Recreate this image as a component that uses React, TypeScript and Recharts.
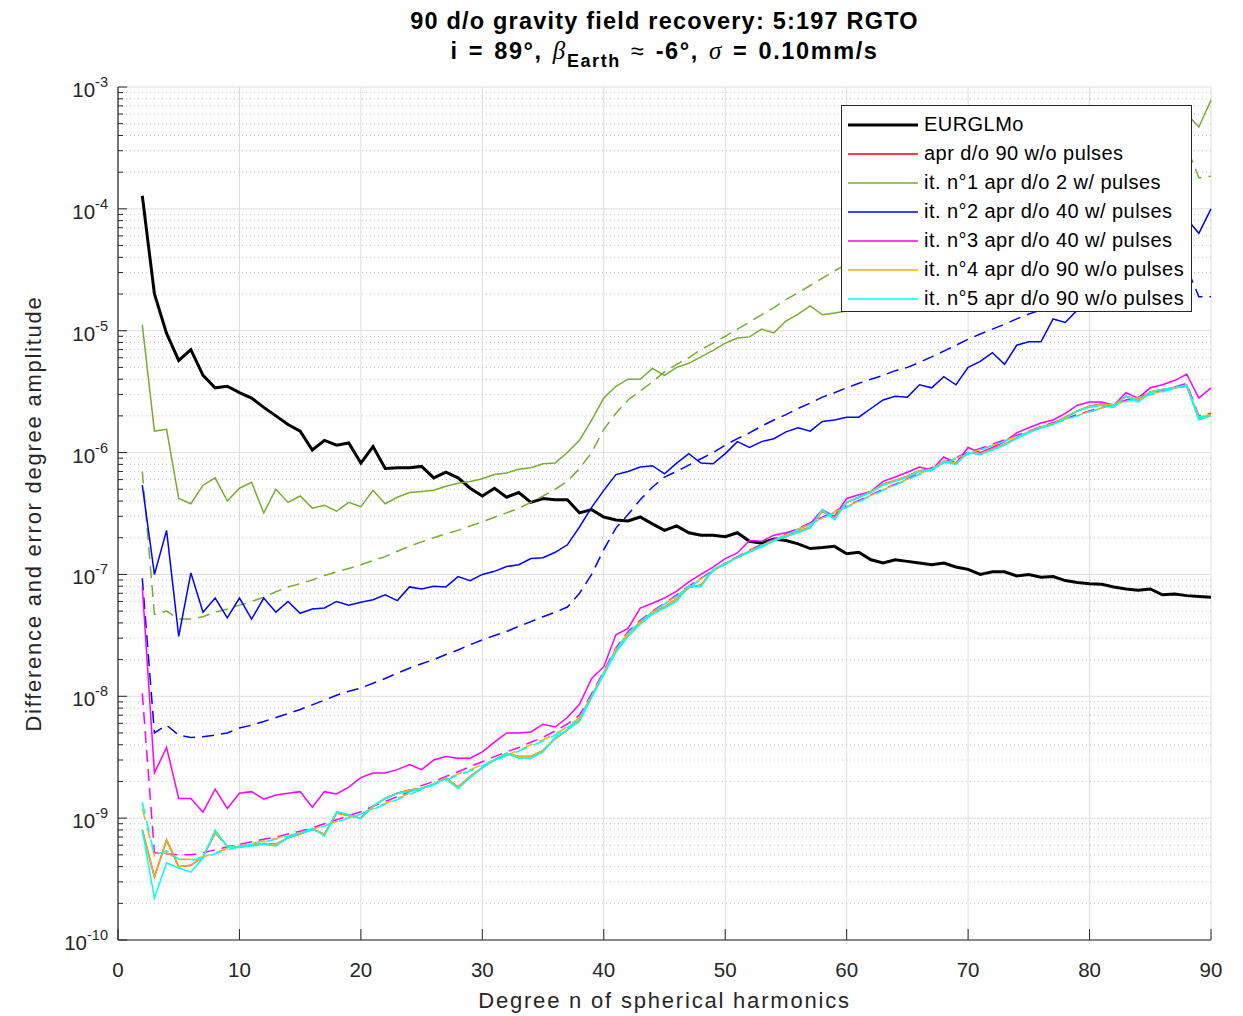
import React from "react";
import {
  LineChart,
  Line,
  XAxis,
  YAxis,
  CartesianGrid,
  ReferenceLine,
  Legend,
} from "recharts";

// Degree n of the spherical harmonic expansion (x categories)
const degrees = [
  2, 3, 4, 5, 6, 7, 8, 9, 10, 11, 12, 13, 14, 15, 16, 17, 18, 19, 20, 21, 22, 23, 24, 25, 26, 27, 28, 29, 30,
  31, 32, 33, 34, 35, 36, 37, 38, 39, 40, 41, 42, 43, 44, 45, 46, 47, 48, 49, 50, 51, 52, 53, 54, 55, 56, 57, 58, 59, 60,
  61, 62, 63, 64, 65, 66, 67, 68, 69, 70, 71, 72, 73, 74, 75, 76, 77, 78, 79, 80, 81, 82, 83, 84, 85, 86, 87, 88, 89, 90,
];

// EURGLMo signal degree amplitude
const eurglmo = [
  1.28e-4, 2.0e-5, 9.5e-6, 5.7e-6, 7.0e-6, 4.3e-6, 3.4e-6, 3.5e-6, 3.1e-6, 2.8e-6, 2.35e-6, 2.0e-6, 1.7e-6, 1.5e-6,
  1.05e-6, 1.26e-6, 1.15e-6, 1.2e-6, 8.2e-7, 1.12e-6, 7.4e-7, 7.5e-7, 7.5e-7, 7.7e-7, 6.2e-7, 6.9e-7, 6.2e-7, 5.1e-7,
  4.4e-7, 5.1e-7, 4.3e-7, 4.7e-7, 3.9e-7, 4.2e-7, 4.1e-7, 4.1e-7, 3.2e-7, 3.4e-7, 2.96e-7, 2.8e-7, 2.75e-7, 2.96e-7,
  2.6e-7, 2.3e-7, 2.5e-7, 2.2e-7, 2.1e-7, 2.1e-7, 2.04e-7, 2.2e-7, 1.87e-7, 1.8e-7, 1.95e-7, 1.9e-7, 1.78e-7, 1.63e-7,
  1.66e-7, 1.7e-7, 1.48e-7, 1.52e-7, 1.32e-7, 1.24e-7, 1.32e-7, 1.28e-7, 1.24e-7, 1.2e-7, 1.24e-7, 1.15e-7, 1.1e-7,
  1.0e-7, 1.05e-7, 1.05e-7, 9.7e-8, 1.0e-7, 9.5e-8, 9.6e-8, 8.9e-8, 8.6e-8, 8.4e-8, 8.3e-8, 7.9e-8, 7.6e-8, 7.4e-8,
  7.6e-8, 6.8e-8, 6.9e-8, 6.7e-8, 6.6e-8, 6.5e-8,
];

// it. n°1 (green): difference (solid) and formal error (dashed)
const it1Diff = [
  1.12e-5, 1.5e-6, 1.55e-6, 4.2e-7, 3.8e-7, 5.4e-7, 6.2e-7, 4.0e-7, 5.1e-7, 5.7e-7, 3.2e-7, 5.0e-7, 3.9e-7, 4.4e-7,
  3.5e-7, 3.7e-7, 3.3e-7, 3.9e-7, 3.6e-7, 4.9e-7, 3.8e-7, 4.3e-7, 4.7e-7, 4.8e-7, 4.9e-7, 5.3e-7, 5.6e-7, 5.8e-7,
  6.1e-7, 6.6e-7, 6.8e-7, 7.3e-7, 7.5e-7, 8.1e-7, 8.2e-7, 1.0e-6, 1.26e-6, 1.85e-6, 2.8e-6, 3.5e-6, 4.0e-6, 4.0e-6,
  4.9e-6, 4.3e-6, 5.0e-6, 5.4e-6, 6.1e-6, 6.9e-6, 7.9e-6, 8.7e-6, 8.9e-6, 1.03e-5, 9.6e-6, 1.2e-5, 1.37e-5, 1.6e-5,
  1.35e-5, 1.4e-5, 1.45e-5, 1.65e-5, 1.85e-5, 2.2e-5, 2.4e-5, 2.9e-5, 3.2e-5, 3.7e-5, 4.1e-5, 4.9e-5, 5.4e-5, 6.3e-5,
  7.0e-5, 8.3e-5, 9.1e-5, 1.07e-4, 1.18e-4, 1.4e-4, 1.52e-4, 1.8e-4, 1.95e-4, 2.3e-4, 2.5e-4, 3.0e-4, 3.2e-4, 3.9e-4,
  4.3e-4, 5.0e-4, 6.0e-4, 4.7e-4, 7.8e-4,
];
const it1Formal = [
  7.0e-7, 4.7e-8, 5.0e-8, 4.3e-8, 4.3e-8, 4.5e-8, 4.9e-8, 5.2e-8, 5.6e-8, 6.0e-8, 6.5e-8, 7.2e-8, 7.9e-8, 8.4e-8,
  9.0e-8, 9.8e-8, 1.05e-7, 1.12e-7, 1.2e-7, 1.3e-7, 1.4e-7, 1.55e-7, 1.7e-7, 1.85e-7, 2.0e-7, 2.15e-7, 2.3e-7, 2.5e-7,
  2.7e-7, 2.95e-7, 3.2e-7, 3.5e-7, 3.9e-7, 4.4e-7, 5.0e-7, 5.8e-7, 7.4e-7, 1.0e-6, 1.55e-6, 2.1e-6, 2.7e-6, 3.2e-6,
  3.8e-6, 4.6e-6, 5.3e-6, 6.0e-6, 7.0e-6, 7.9e-6, 9.0e-6, 1.03e-5, 1.18e-5, 1.35e-5, 1.55e-5, 1.8e-5, 2.05e-5, 2.35e-5,
  2.7e-5, 3.1e-5, 3.5e-5, 3.9e-5, 4.3e-5, 4.7e-5, 5.1e-5, 5.5e-5, 5.9e-5, 6.3e-5, 6.8e-5, 7.3e-5, 7.8e-5, 8.3e-5,
  8.9e-5, 9.5e-5, 1.0e-4, 1.07e-4, 1.13e-4, 1.2e-4, 1.27e-4, 1.35e-4, 1.42e-4, 1.5e-4, 1.62e-4, 1.75e-4, 1.9e-4,
  2.05e-4, 2.25e-4, 2.6e-4, 3.2e-4, 1.8e-4, 1.85e-4,
];

// it. n°2 (blue)
const it2Diff = [
  5.4e-7, 1.0e-7, 2.3e-7, 3.1e-8, 1.03e-7, 4.9e-8, 6.4e-8, 4.4e-8, 6.4e-8, 4.3e-8, 6.4e-8, 4.9e-8, 6.0e-8, 4.8e-8,
  5.2e-8, 5.3e-8, 6.0e-8, 5.6e-8, 5.9e-8, 6.2e-8, 6.8e-8, 6.1e-8, 7.9e-8, 7.6e-8, 8.0e-8, 7.9e-8, 9.6e-8, 8.9e-8,
  1.0e-7, 1.06e-7, 1.16e-7, 1.2e-7, 1.35e-7, 1.37e-7, 1.52e-7, 1.75e-7, 2.45e-7, 3.55e-7, 4.9e-7, 6.6e-7, 7.0e-7,
  7.6e-7, 7.8e-7, 6.7e-7, 8.2e-7, 9.8e-7, 8.2e-7, 8.1e-7, 9.8e-7, 1.23e-6, 1.1e-6, 1.23e-6, 1.3e-6, 1.48e-6, 1.6e-6,
  1.5e-6, 1.8e-6, 1.85e-6, 1.95e-6, 1.95e-6, 2.3e-6, 2.7e-6, 2.9e-6, 2.85e-6, 3.6e-6, 3.4e-6, 4.2e-6, 3.6e-6, 5.0e-6,
  5.6e-6, 6.6e-6, 5.3e-6, 7.6e-6, 8.1e-6, 8.1e-6, 1.25e-5, 1.17e-5, 1.48e-5, 1.7e-5, 2.0e-5, 2.2e-5, 2.7e-5, 3.0e-5,
  3.7e-5, 4.4e-5, 5.6e-5, 8.3e-5, 6.3e-5, 1.0e-4,
];
const it2Formal = [
  9.3e-8, 5.0e-9, 5.8e-9, 4.8e-9, 4.6e-9, 4.65e-9, 4.8e-9, 5.0e-9, 5.5e-9, 5.8e-9, 6.2e-9, 6.7e-9, 7.2e-9, 7.8e-9,
  8.5e-9, 9.3e-9, 1.02e-8, 1.1e-8, 1.17e-8, 1.28e-8, 1.4e-8, 1.55e-8, 1.7e-8, 1.85e-8, 2.0e-8, 2.2e-8, 2.4e-8, 2.65e-8,
  2.9e-8, 3.15e-8, 3.4e-8, 3.75e-8, 4.1e-8, 4.5e-8, 4.9e-8, 5.4e-8, 7.0e-8, 1.0e-7, 1.6e-7, 2.4e-7, 3.1e-7, 4.1e-7,
  5.2e-7, 6.3e-7, 7.0e-7, 7.9e-7, 8.9e-7, 1.0e-6, 1.15e-6, 1.3e-6, 1.45e-6, 1.65e-6, 1.85e-6, 2.05e-6, 2.3e-6, 2.55e-6,
  2.85e-6, 3.1e-6, 3.4e-6, 3.7e-6, 4.0e-6, 4.3e-6, 4.7e-6, 5.0e-6, 5.5e-6, 6.1e-6, 6.8e-6, 7.6e-6, 8.5e-6, 9.4e-6,
  1.03e-5, 1.13e-5, 1.25e-5, 1.37e-5, 1.48e-5, 1.6e-5, 1.72e-5, 1.85e-5, 1.98e-5, 2.1e-5, 2.25e-5, 2.4e-5, 2.55e-5,
  2.7e-5, 2.9e-5, 3.1e-5, 3.3e-5, 1.9e-5, 1.9e-5,
];

// it. n°3 (magenta)
const it3Diff = [
  8.0e-8, 2.35e-9, 3.8e-9, 1.45e-9, 1.45e-9, 1.12e-9, 1.73e-9, 1.2e-9, 1.6e-9, 1.65e-9, 1.43e-9, 1.55e-9, 1.6e-9,
  1.65e-9, 1.23e-9, 1.65e-9, 1.58e-9, 1.8e-9, 2.15e-9, 2.35e-9, 2.35e-9, 2.5e-9, 2.75e-9, 2.5e-9, 3.0e-9, 3.2e-9,
  3.1e-9, 3.1e-9, 3.5e-9, 4.2e-9, 5.0e-9, 5.0e-9, 5.1e-9, 5.9e-9, 5.6e-9, 6.7e-9, 8.6e-9, 1.4e-8, 1.75e-8, 3.2e-8,
  3.6e-8, 5.3e-8, 5.8e-8, 6.4e-8, 7.3e-8, 8.7e-8, 1.0e-7, 1.15e-7, 1.35e-7, 1.5e-7, 1.9e-7, 1.87e-7, 2.1e-7, 2.2e-7,
  2.35e-7, 2.6e-7, 3.4e-7, 3.0e-7, 4.2e-7, 4.5e-7, 4.8e-7, 5.8e-7, 6.3e-7, 6.9e-7, 7.6e-7, 7.2e-7, 9.2e-7, 8.2e-7,
  1.1e-6, 1.0e-6, 1.1e-6, 1.23e-6, 1.45e-6, 1.6e-6, 1.75e-6, 1.85e-6, 2.1e-6, 2.45e-6, 2.6e-6, 2.6e-6, 2.45e-6, 3.1e-6,
  2.8e-6, 3.4e-6, 3.6e-6, 3.9e-6, 4.4e-6, 2.8e-6, 3.4e-6,
];
const it3Formal = [
  1.06e-8, 5.2e-10, 5.1e-10, 5.0e-10, 5.0e-10, 5.2e-10, 5.5e-10, 5.8e-10, 6.1e-10, 6.4e-10, 6.7e-10, 7.0e-10, 7.4e-10,
  7.8e-10, 8.3e-10, 9.0e-10, 9.7e-10, 1.05e-9, 1.13e-9, 1.25e-9, 1.37e-9, 1.5e-9, 1.65e-9, 1.85e-9, 2.0e-9, 2.2e-9,
  2.4e-9, 2.65e-9, 2.9e-9, 3.2e-9, 3.5e-9, 3.8e-9, 4.2e-9, 4.6e-9, 5.2e-9, 5.9e-9, 7.0e-9, 1.05e-8, 1.6e-8, 2.5e-8,
  3.4e-8, 4.2e-8, 5.0e-8, 5.8e-8, 6.8e-8, 8.0e-8, 9.3e-8, 1.08e-7, 1.24e-7, 1.4e-7, 1.58e-7, 1.76e-7, 1.95e-7, 2.15e-7,
  2.38e-7, 2.65e-7, 2.95e-7, 3.3e-7, 3.65e-7, 4.05e-7, 4.5e-7, 5.0e-7, 5.5e-7, 6.1e-7, 6.8e-7, 7.5e-7, 8.3e-7, 9.1e-7,
  1.0e-6, 1.08e-6, 1.17e-6, 1.27e-6, 1.38e-6, 1.5e-6, 1.63e-6, 1.76e-6, 1.9e-6, 2.05e-6, 2.2e-6, 2.35e-6, 2.5e-6,
  2.7e-6, 2.85e-6, 3.05e-6, 3.25e-6, 3.45e-6, 3.7e-6, 2.0e-6, 2.1e-6,
];

// it. n°4 (orange)
const it4Diff = [
  8.0e-10, 3.3e-10, 6.6e-10, 4.0e-10, 4.1e-10, 4.8e-10, 7.6e-10, 5.9e-10, 5.8e-10, 6.0e-10, 6.2e-10, 6.1e-10, 6.9e-10,
  7.4e-10, 8.1e-10, 7.4e-10, 1.1e-9, 1.05e-9, 1.0e-9, 1.25e-9, 1.45e-9, 1.6e-9, 1.7e-9, 1.75e-9, 1.9e-9, 2.15e-9,
  1.8e-9, 2.2e-9, 2.6e-9, 3.0e-9, 3.4e-9, 3.2e-9, 3.2e-9, 3.6e-9, 4.5e-9, 5.3e-9, 6.4e-9, 1.0e-8, 1.55e-8, 2.4e-8,
  3.2e-8, 4.0e-8, 4.9e-8, 5.4e-8, 6.3e-8, 7.8e-8, 8.2e-8, 1.08e-7, 1.23e-7, 1.38e-7, 1.55e-7, 1.7e-7, 1.9e-7, 2.05e-7,
  2.25e-7, 2.45e-7, 3.3e-7, 2.9e-7, 3.9e-7, 4.3e-7, 4.8e-7, 5.5e-7, 5.9e-7, 6.4e-7, 7.1e-7, 7.3e-7, 8.5e-7, 8.2e-7,
  1.0e-6, 9.8e-7, 1.07e-6, 1.17e-6, 1.32e-6, 1.47e-6, 1.62e-6, 1.72e-6, 1.95e-6, 2.2e-6, 2.4e-6, 2.5e-6, 2.45e-6,
  2.9e-6, 2.7e-6, 3.15e-6, 3.3e-6, 3.4e-6, 3.5e-6, 1.9e-6, 2.0e-6,
];
const it4Formal = [
  1.2e-9, 4.9e-10, 5.2e-10, 4.6e-10, 4.6e-10, 4.8e-10, 5.2e-10, 5.6e-10, 5.9e-10, 6.2e-10, 6.5e-10, 6.8e-10, 7.2e-10,
  7.6e-10, 8.1e-10, 8.7e-10, 9.4e-10, 1.01e-9, 1.09e-9, 1.2e-9, 1.32e-9, 1.45e-9, 1.6e-9, 1.76e-9, 1.92e-9, 2.1e-9,
  2.3e-9, 2.5e-9, 2.75e-9, 3.0e-9, 3.3e-9, 3.6e-9, 4.0e-9, 4.4e-9, 4.9e-9, 5.6e-9, 6.7e-9, 1.02e-8, 1.57e-8, 2.45e-8,
  3.3e-8, 4.1e-8, 4.9e-8, 5.7e-8, 6.7e-8, 7.9e-8, 9.2e-8, 1.07e-7, 1.22e-7, 1.38e-7, 1.56e-7, 1.74e-7, 1.92e-7,
  2.12e-7, 2.35e-7, 2.6e-7, 2.9e-7, 3.25e-7, 3.6e-7, 4.0e-7, 4.45e-7, 4.95e-7, 5.45e-7, 6.05e-7, 6.7e-7, 7.4e-7,
  8.2e-7, 9.0e-7, 9.8e-7, 1.06e-6, 1.15e-6, 1.25e-6, 1.36e-6, 1.48e-6, 1.61e-6, 1.74e-6, 1.88e-6, 2.02e-6, 2.17e-6,
  2.32e-6, 2.47e-6, 2.65e-6, 2.82e-6, 3.0e-6, 3.2e-6, 3.4e-6, 3.6e-6, 1.95e-6, 2.05e-6,
];

// it. n°5 (cyan)
const it5Diff = [
  8.0e-10, 2.2e-10, 4.3e-10, 3.9e-10, 3.6e-10, 4.7e-10, 8.0e-10, 5.8e-10, 5.8e-10, 5.9e-10, 6.1e-10, 5.9e-10, 6.9e-10,
  7.5e-10, 8.3e-10, 7.1e-10, 1.13e-9, 1.07e-9, 9.9e-10, 1.27e-9, 1.45e-9, 1.6e-9, 1.65e-9, 1.75e-9, 1.9e-9, 2.1e-9,
  1.75e-9, 2.15e-9, 2.6e-9, 3.0e-9, 3.4e-9, 3.1e-9, 3.1e-9, 3.5e-9, 4.6e-9, 5.3e-9, 6.2e-9, 9.8e-9, 1.5e-8, 2.3e-8,
  3.1e-8, 3.9e-8, 4.7e-8, 5.3e-8, 6.0e-8, 8.1e-8, 7.9e-8, 1.1e-7, 1.22e-7, 1.38e-7, 1.52e-7, 1.68e-7, 1.88e-7, 2.05e-7,
  2.2e-7, 2.4e-7, 3.4e-7, 2.8e-7, 3.9e-7, 4.3e-7, 4.7e-7, 5.4e-7, 5.8e-7, 6.3e-7, 7.0e-7, 7.1e-7, 8.4e-7, 8.0e-7,
  1.0e-6, 9.6e-7, 1.05e-6, 1.15e-6, 1.3e-6, 1.45e-6, 1.6e-6, 1.7e-6, 1.9e-6, 2.2e-6, 2.35e-6, 2.45e-6, 2.35e-6, 2.9e-6,
  2.6e-6, 3.1e-6, 3.3e-6, 3.4e-6, 3.6e-6, 1.85e-6, 2.0e-6,
];
const it5Formal = [
  1.35e-9, 5.0e-10, 5.4e-10, 4.6e-10, 4.5e-10, 4.7e-10, 5.1e-10, 5.5e-10, 5.8e-10, 6.1e-10, 6.4e-10, 6.7e-10, 7.1e-10,
  7.5e-10, 8.0e-10, 8.6e-10, 9.3e-10, 1.0e-9, 1.08e-9, 1.18e-9, 1.3e-9, 1.42e-9, 1.56e-9, 1.72e-9, 1.88e-9, 2.05e-9,
  2.25e-9, 2.45e-9, 2.7e-9, 2.95e-9, 3.25e-9, 3.55e-9, 3.9e-9, 4.3e-9, 4.8e-9, 5.5e-9, 6.6e-9, 1.0e-8, 1.55e-8, 2.4e-8,
  3.3e-8, 4.1e-8, 4.9e-8, 5.7e-8, 6.6e-8, 7.8e-8, 9.1e-8, 1.06e-7, 1.21e-7, 1.37e-7, 1.54e-7, 1.72e-7, 1.9e-7, 2.1e-7,
  2.32e-7, 2.58e-7, 2.88e-7, 3.2e-7, 3.55e-7, 3.95e-7, 4.4e-7, 4.9e-7, 5.4e-7, 6.0e-7, 6.6e-7, 7.3e-7, 8.1e-7, 8.9e-7,
  9.7e-7, 1.05e-6, 1.14e-6, 1.24e-6, 1.35e-6, 1.47e-6, 1.6e-6, 1.72e-6, 1.86e-6, 2.0e-6, 2.15e-6, 2.3e-6, 2.45e-6,
  2.62e-6, 2.8e-6, 2.98e-6, 3.15e-6, 3.35e-6, 3.55e-6, 1.95e-6, 2.05e-6,
];

// the red "apr d/o 90 w/o pulses" curve is not visible: it lies under it. n°4/n°5
const aprDiff = it4Diff;

const xTicks = [0, 10, 20, 30, 40, 50, 60, 70, 80, 90];
const yTicks = [1e-10, 1e-9, 1e-8, 1e-7, 1e-6, 1e-5, 1e-4, 1e-3];
const yTickExponents = [-10, -9, -8, -7, -6, -5, -4, -3];
const decadeStarts = [1e-10, 1e-9, 1e-8, 1e-7, 1e-6, 1e-5, 1e-4];
const minorSteps = [2, 3, 4, 5, 6, 7, 8, 9];
const minorValues = decadeStarts.flatMap((d) => minorSteps.map((k) => k * d));

const AXIS = "#262626";
const FONT = "'Liberation Sans', Arial, Helvetica, sans-serif";
const SERIF = "'Liberation Serif', 'Times New Roman', serif";
const DASH = "12 7";

const legendItems = [
  { name: "EURGLMo", color: "#000000", width: 3 },
  { name: "apr d/o 90 w/o pulses", color: "#FF0000", width: 1.5 },
  { name: "it. n°1 apr d/o 2 w/ pulses", color: "#77AC30", width: 1.5 },
  { name: "it. n°2 apr d/o 40 w/ pulses", color: "#0000FF", width: 1.5 },
  { name: "it. n°3 apr d/o 40 w/ pulses", color: "#FF00FF", width: 1.5 },
  { name: "it. n°4 apr d/o 90 w/o pulses", color: "#EDB120", width: 1.5 },
  { name: "it. n°5 apr d/o 90 w/o pulses", color: "#00FFFF", width: 1.5 },
];

const rows = degrees.map((n, i) => ({
  n,
  eur: eurglmo[i],
  apr: aprDiff[i],
  g: it1Diff[i],
  gd: it1Formal[i],
  b: it2Diff[i],
  bd: it2Formal[i],
  m: it3Diff[i],
  md: it3Formal[i],
  o: it4Diff[i],
  od: it4Formal[i],
  c: it5Diff[i],
  cd: it5Formal[i],
}));

function XTick({ x, y, payload }: any) {
  return (
    <text x={x} y={y + 37} textAnchor="middle" fontSize={20.5} fill={AXIS} fontFamily={FONT}>
      {payload.value}
    </text>
  );
}

function YTick({ x, y, payload }: any) {
  const idx = yTicks.indexOf(payload.value);
  const exp = idx >= 0 ? yTickExponents[idx] : 0;
  return (
    <text x={x - 10} y={y} textAnchor="end" fill={AXIS} fontFamily={FONT}>
      <tspan dy={10} fontSize={20.5}>10</tspan>
      <tspan dy={-10} fontSize={14.5}>{exp}</tspan>
    </text>
  );
}

function LegendBox() {
  return (
    <div
      style={{
        border: "1px solid #262626",
        background: "#fff",
        width: 351,
        height: 207,
        boxSizing: "border-box",
        paddingTop: 4,
        fontFamily: FONT,
        fontSize: 20,
        letterSpacing: 0.45,
        color: "#000",
      }}
    >
      {legendItems.map((it) => (
        <div key={it.name} style={{ display: "flex", alignItems: "center", height: 29, whiteSpace: "nowrap" }}>
          <svg width={82} height={8} style={{ flex: "none" }}>
            <line x1={6} x2={76} y1={4} y2={4} stroke={it.color} strokeWidth={it.width} />
          </svg>
          <span>{it.name}</span>
        </div>
      ))}
    </div>
  );
}

function YLabel({ viewBox }: any) {
  const cx = 33;
  const cy = viewBox.y + viewBox.height / 2;
  return (
    <text
      x={cx}
      y={cy}
      transform={`rotate(-90, ${cx}, ${cy})`}
      textAnchor="middle"
      dominantBaseline="central"
      fontSize={22}
      letterSpacing={1.75}
      fill={AXIS}
      fontFamily={FONT}
    >
      Difference and error degree amplitude
    </text>
  );
}

function XLabel({ viewBox }: any) {
  return (
    <text
      x={viewBox.x + viewBox.width / 2}
      y={1008}
      textAnchor="middle"
      fontSize={22}
      letterSpacing={1.8}
      fill={AXIS}
      fontFamily={FONT}
    >
      Degree n of spherical harmonics
    </text>
  );
}

function series(key: string, color: string, dashed: boolean, width = 1.5) {
  return (
    <Line
      key={key}
      dataKey={key}
      type="linear"
      stroke={color}
      strokeWidth={width}
      strokeDasharray={dashed ? DASH : undefined}
      dot={false}
      activeDot={false}
      isAnimationActive={false}
      legendType="none"
    />
  );
}

export default function App() {
  return (
    <div style={{ position: "absolute", left: 0, top: 0, width: 1243, height: 1016, background: "#fff" }}>
      <div
        style={{
          position: "absolute",
          left: 118,
          width: 1093,
          top: 6,
          textAlign: "center",
          fontFamily: FONT,
          fontWeight: "bold",
          fontSize: 23.5,
          color: "#000",
          lineHeight: "30px",
          zIndex: 2,
        }}
      >
        <div style={{ letterSpacing: 1.2 }}>90 d/o gravity field recovery: 5:197 RGTO</div>
        <div style={{ letterSpacing: 1.6, wordSpacing: 2 }}>
          i = 89°,{" "}
          <span style={{ fontFamily: SERIF, fontStyle: "italic", fontWeight: "normal", fontSize: 25 }}>β</span>
          <span style={{ fontSize: 18, position: "relative", top: 8 }}>Earth</span>{" "}
          <span style={{ fontWeight: "normal" }}>≈</span> -6°,{" "}
          <span style={{ fontFamily: SERIF, fontStyle: "italic", fontWeight: "normal", fontSize: 25 }}>σ</span> =
          0.10mm/s
        </div>
      </div>
      <LineChart width={1243} height={1016} data={rows} margin={{ top: 87, right: 32, bottom: 0, left: 0 }}>
        <CartesianGrid stroke="#dedede" strokeWidth={1} />
        {minorValues.map((v) => (
          <ReferenceLine key={`mg${v}`} y={v} stroke="#c4c4c4" strokeDasharray="1 3" strokeWidth={1} />
        ))}
        <XAxis
          dataKey="n"
          type="number"
          domain={[0, 90]}
          ticks={xTicks}
          tick={<XTick />}
          tickLine={false}
          tickSize={0}
          tickMargin={0}
          height={76}
          axisLine={{ stroke: AXIS, strokeWidth: 1.2 }}
          label={<XLabel />}
        />
        <YAxis
          scale="log"
          domain={[1e-10, 1e-3]}
          allowDataOverflow
          ticks={yTicks}
          tick={<YTick />}
          tickLine={false}
          tickSize={0}
          tickMargin={0}
          width={118}
          axisLine={{ stroke: AXIS, strokeWidth: 1.2 }}
          label={<YLabel />}
        />
        {/* inward tick marks, MATLAB style */}
        {minorValues.map((v) => (
          <ReferenceLine
            key={`mt${v}`}
            segment={[{ x: 0, y: v }, { x: 0.42, y: v }]}
            stroke={AXIS}
            strokeWidth={1}
          />
        ))}
        {yTicks.map((v) => (
          <ReferenceLine
            key={`yt${v}`}
            segment={[{ x: 0, y: v }, { x: 0.75, y: v }]}
            stroke={AXIS}
            strokeWidth={1}
          />
        ))}
        {xTicks.map((t) => (
          <ReferenceLine
            key={`xt${t}`}
            segment={[{ x: t, y: 1e-10 }, { x: t, y: 1.23e-10 }]}
            stroke={AXIS}
            strokeWidth={1}
          />
        ))}
        {series("eur", "#000000", false, 3)}
        {series("apr", "#FF0000", false)}
        {series("g", "#77AC30", false)}
        {series("gd", "#77AC30", true)}
        {series("b", "#0000FF", false)}
        {series("bd", "#0000FF", true)}
        {series("m", "#FF00FF", false)}
        {series("md", "#FF00FF", true)}
        {series("o", "#EDB120", false)}
        {series("od", "#EDB120", true)}
        {series("c", "#00FFFF", false)}
        {series("cd", "#00FFFF", true)}
        <Legend
          layout="vertical"
          align="center"
          verticalAlign="middle"
          content={() => <LegendBox />}
          wrapperStyle={{ left: 841, top: 105, width: 351, height: 207, bottom: "auto", right: "auto" }}
        />
      </LineChart>
    </div>
  );
}
